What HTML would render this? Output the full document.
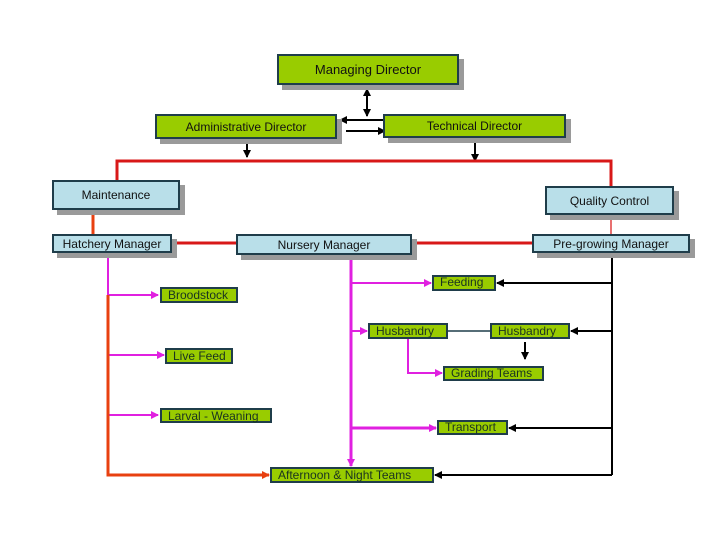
<!DOCTYPE html><html><head><style>
body{margin:0;width:720px;height:540px;background:#fff;position:relative;overflow:hidden;font-family:"Liberation Sans",sans-serif}
.b{position:absolute;border:2px solid #1f3d4a;box-sizing:border-box;display:flex;align-items:center;justify-content:center;font-size:12px;color:#111;box-shadow:5px 5px 0 #9a9a9a}
.g{background:#99cc00}.l{background:#b9dfe9}
.s{position:absolute;border:2px solid #1f3d4a;box-sizing:border-box;background:#99cc00;font-size:12px;color:#1a3320;padding-left:6px;line-height:12px}
svg{position:absolute;left:0;top:0}
</style></head><body>
<svg width="720" height="540">
<defs>
<marker id="k" markerWidth="8" markerHeight="8" refX="7" refY="4" orient="auto" markerUnits="userSpaceOnUse"><path d="M0,0L8,4L0,8z" fill="#000"/></marker>
<marker id="p" markerWidth="8" markerHeight="8" refX="7" refY="4" orient="auto" markerUnits="userSpaceOnUse"><path d="M0,0L8,4L0,8z" fill="#e020e0"/></marker>
<marker id="o" markerWidth="8" markerHeight="8" refX="7" refY="4" orient="auto" markerUnits="userSpaceOnUse"><path d="M0,0L8,4L0,8z" fill="#e84010"/></marker>
</defs>
<g stroke="#000" stroke-width="2" fill="none">
<line x1="367" y1="100" x2="367" y2="89" marker-end="url(#k)"/>
<line x1="367" y1="100" x2="367" y2="116" marker-end="url(#k)"/>
<line x1="383" y1="120" x2="340" y2="120" marker-end="url(#k)"/>
<line x1="346" y1="131" x2="385" y2="131" marker-end="url(#k)"/>
<line x1="247" y1="139" x2="247" y2="157" marker-end="url(#k)"/>
<line x1="475" y1="143" x2="475" y2="161" marker-end="url(#k)"/>
<polyline points="612,253 612,475"/>
<line x1="612" y1="283" x2="497" y2="283" marker-end="url(#k)"/>
<line x1="612" y1="331" x2="571" y2="331" marker-end="url(#k)"/>
<line x1="612" y1="428" x2="509" y2="428" marker-end="url(#k)"/>
<line x1="612" y1="475" x2="435" y2="475" marker-end="url(#k)"/>
<line x1="525" y1="342" x2="525" y2="359" marker-end="url(#k)"/>
</g>
<line x1="448" y1="331" x2="490" y2="331" stroke="#1f3d4a" stroke-width="1.5"/>
<g stroke="#d81818" stroke-width="3" fill="none">
<polyline points="117,180 117,161 611,161 611,186"/>
<line x1="172" y1="243" x2="236" y2="243"/>
<line x1="412" y1="243" x2="532" y2="243"/>
</g>
<line x1="611" y1="215" x2="611" y2="234" stroke="#e04040" stroke-width="1.5"/>
<line x1="93" y1="210" x2="93" y2="234" stroke="#e84010" stroke-width="3"/>
<g stroke="#e020e0" stroke-width="2" fill="none">
<line x1="108" y1="253" x2="108" y2="295"/>
<line x1="108" y1="295" x2="158" y2="295" marker-end="url(#p)"/>
<line x1="108" y1="355" x2="164" y2="355" marker-end="url(#p)"/>
<line x1="108" y1="415" x2="158" y2="415" marker-end="url(#p)"/>
<line x1="351" y1="255" x2="351" y2="466" stroke-width="3" marker-end="url(#p)"/>
<line x1="351" y1="283" x2="431" y2="283" marker-end="url(#p)"/>
<line x1="351" y1="331" x2="367" y2="331" marker-end="url(#p)"/>
<line x1="351" y1="428" x2="436" y2="428" stroke-width="3" marker-end="url(#p)"/>
<polyline points="408,339 408,373 442,373" marker-end="url(#p)"/>
</g>
<polyline points="108,295 108,475 269,475" stroke="#e84010" stroke-width="3" fill="none" marker-end="url(#o)"/>
</svg>
<div class="b g" style="left:277px;top:54px;width:182px;height:31px;font-size:13px">Managing Director</div>
<div class="b g" style="left:155px;top:114px;width:182px;height:25px">Administrative Director</div>
<div class="b g" style="left:383px;top:114px;width:183px;height:24px">Technical Director</div>
<div class="b l" style="left:52px;top:180px;width:128px;height:30px;align-items:flex-start;padding-top:6px">Maintenance</div>
<div class="b l" style="left:545px;top:186px;width:129px;height:29px">Quality Control</div>
<div class="b l" style="left:52px;top:234px;width:120px;height:19px">Hatchery Manager</div>
<div class="b l" style="left:236px;top:234px;width:176px;height:21px">Nursery Manager</div>
<div class="b l" style="left:532px;top:234px;width:158px;height:19px">Pre-growing Manager</div>
<div class="s" style="left:160px;top:287px;width:78px;height:16px">Broodstock</div>
<div class="s" style="left:165px;top:348px;width:68px;height:16px">Live Feed</div>
<div class="s" style="left:160px;top:408px;width:112px;height:15px">Larval - Weaning</div>
<div class="s" style="left:432px;top:275px;width:64px;height:16px;line-height:10px">Feeding</div>
<div class="s" style="left:368px;top:323px;width:80px;height:16px">Husbandry</div>
<div class="s" style="left:490px;top:323px;width:80px;height:16px">Husbandry</div>
<div class="s" style="left:443px;top:366px;width:101px;height:15px;line-height:11px">Grading Teams</div>
<div class="s" style="left:437px;top:420px;width:71px;height:15px;line-height:11px">Transport</div>
<div class="s" style="left:270px;top:467px;width:164px;height:16px">Afternoon &amp; Night Teams</div>
</body></html>
